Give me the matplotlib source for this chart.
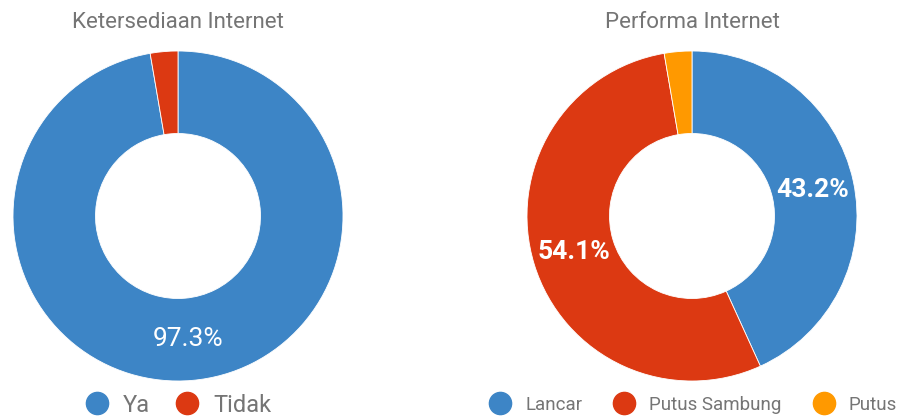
import matplotlib
matplotlib.use("Agg")
import matplotlib.pyplot as plt
from matplotlib.lines import Line2D

plt.rcParams['font.family'] = ['Roboto', 'DejaVu Sans']

title_left = "Ketersediaan Internet"
labels_left = ["Ya", "Tidak"]
values_left = [97.3, 2.7]
colors_left = ["#3d85c6", "#dc3912"]

title_right = "Performa Internet"
labels_right = ["Lancar", "Putus Sambung", "Putus"]
values_right = [43.2, 54.1, 2.7]
colors_right = ["#3d85c6", "#dc3912", "#ff9900"]

W, H = 900, 416
fig = plt.figure(figsize=(W / 100, H / 100), dpi=100)
GRAY = "#757575"


def donut(cx, cy, r, values, colors, bold):
    ax = fig.add_axes([(cx - r) / W, (H - cy - r) / H, 2 * r / W, 2 * r / H])
    fmt = lambda p: f"{p:.1f}%" if p >= 5 else ""
    ax.pie(
        values, colors=colors, startangle=90, counterclock=False,
        radius=1.0, wedgeprops=dict(width=0.5, edgecolor="white", linewidth=0.6),
        autopct=fmt, pctdistance=0.75,
        textprops=dict(color="white", fontsize=19,
                       fontweight="bold" if bold else "normal"))
    ax.set_xlim(-1, 1)
    ax.set_ylim(-1, 1)
    ax.set_aspect("auto")
    ax.axis("off")
    return ax


donut(178, 216, 165, values_left, colors_left, bold=False)
donut(692, 216, 165, values_right, colors_right, bold=True)

fig.text(178 / W, 1 - 23 / H, title_left, ha="center", va="center",
         fontsize=16, color=GRAY)
fig.text(692 / W, 1 - 23 / H, title_right, ha="center", va="center",
         fontsize=16, color=GRAY)


def legend(labels, colors, cx, fs, pad, spacing):
    handles = [Line2D([], [], marker="o", linestyle="", markersize=16,
                      markerfacecolor=c, markeredgecolor=c) for c in colors]
    leg = fig.legend(handles, labels, loc="center", bbox_to_anchor=(cx / W, 1 - 405 / H),
                     ncol=len(labels), frameon=False, fontsize=fs,
                     handletextpad=pad, columnspacing=spacing, handlelength=1.2,
                     borderaxespad=0, borderpad=0)
    for t in leg.get_texts():
        t.set_color(GRAY)
    return leg


legend(labels_left, colors_left, 177, 17, 0.51, 0.95)
legend(labels_right, colors_right, 693, 13.5, 0.73, 1.65)

fig.savefig("out.png", dpi=100, facecolor="white")
